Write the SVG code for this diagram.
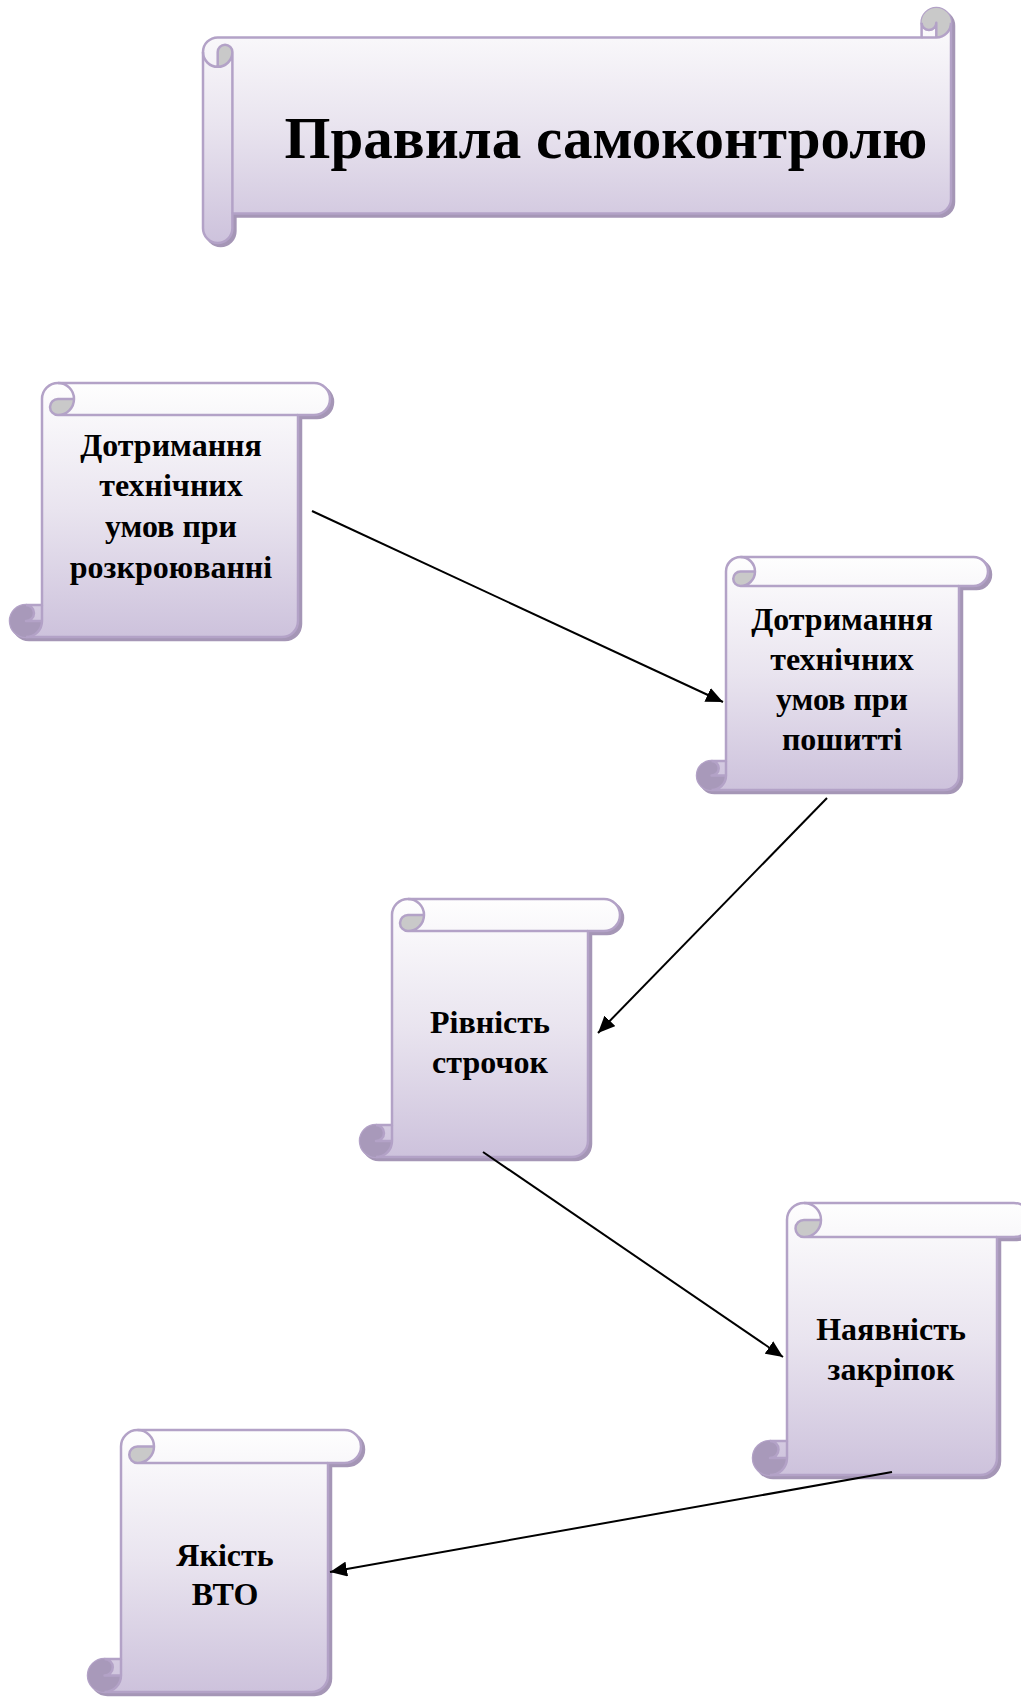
<svg xmlns="http://www.w3.org/2000/svg" width="1021" height="1697" viewBox="0 0 1021 1697">
<style>
.sh{fill:#a596b6;stroke:#a596b6;stroke-width:2.5}
.fv{fill:url(#gv);stroke:#b3a2c7;stroke-width:2.5;stroke-linejoin:round}
.fh{fill:url(#gh);stroke:#b3a2c7;stroke-width:2.5;stroke-linejoin:round}
.dg{fill:#c9c9c9}
.dp{fill:#a899ba}
.ln{fill:none;stroke:#b3a2c7;stroke-width:2.5;stroke-linejoin:round}
.t{font-family:"Liberation Serif","Times New Roman",serif;font-weight:bold;fill:#000;text-anchor:middle}
.n{font-size:32px}
.c{fill:none;stroke:#000;stroke-width:2;marker-end:url(#ah)}
</style>
<defs>
<linearGradient id="gv" x1="0" y1="0" x2="0" y2="1">
<stop offset="0" stop-color="#fefefe"/><stop offset="0.5" stop-color="#e9e4ef"/><stop offset="1" stop-color="#cdc2dc"/>
</linearGradient>
<linearGradient id="gh" x1="0" y1="0" x2="1" y2="0">
<stop offset="0" stop-color="#fefefe"/><stop offset="0.5" stop-color="#e9e4ef"/><stop offset="1" stop-color="#cdc2dc"/>
</linearGradient>
<marker id="ah" markerUnits="userSpaceOnUse" markerWidth="18" markerHeight="15" refX="17" refY="7.5" orient="auto">
<path d="M0,0 L17,7.5 L0,15 Z" fill="#000"/>
</marker>
</defs>

<g id="title">
<g transform="matrix(0,1,1,0,203,8)">
<path class="sh" transform="translate(3,3)" d="M29.4,718.6 L29.4,14.7 A14.7,14.7 0 0 1 44.1,0 L220.3,0 A14.7,14.7 0 0 1 220.3,29.4 L205.6,29.4 L205.6,733.3 A14.7,14.7 0 0 1 190.9,748 L14.7,748 A14.7,14.7 0 0 1 14.7,718.6 Z"/>
<path class="fh" d="M29.4,718.6 L29.4,14.7 A14.7,14.7 0 0 1 44.1,0 L220.3,0 A14.7,14.7 0 0 1 220.3,29.4 L205.6,29.4 L205.6,733.3 A14.7,14.7 0 0 1 190.9,748 L14.7,748 A14.7,14.7 0 0 1 14.7,718.6 Z"/>
<path class="dg" d="M58.8,14.7 A14.7,14.7 0 0 1 44.1,29.4 A7.35,7.35 0 0 1 44.1,14.7 Z"/>
<path class="dg" d="M29.4,733.3 A14.7,14.7 0 1 1 14.7,718.6 A7.35,7.35 0 0 1 14.7,733.3 Z"/>
<path class="ln" d="M44.1,0 A14.7,14.7 0 0 1 44.1,29.4 A7.35,7.35 0 0 1 44.1,14.7 L58.8,14.7 M205.6,29.4 L44.1,29.4 M14.7,718.6 A7.35,7.35 0 0 1 14.7,733.3 L29.4,733.3 M14.7,748 A14.7,14.7 0 0 0 29.4,733.3 L29.4,718.6"/>
</g>
<text class="t" x="606" y="158" font-size="59">Правила самоконтролю</text>
</g>

<g id="node1">
<g transform="translate(10,383)">
<path class="sh" transform="translate(3,3)" d="M32,222 L32,16 A16,16 0 0 1 48,0 L304,0 A16,16 0 0 1 304,32 L288,32 L288,238 A16,16 0 0 1 272,254 L16,254 A16,16 0 0 1 16,222 Z"/>
<path class="fv" d="M32,222 L32,16 A16,16 0 0 1 48,0 L304,0 A16,16 0 0 1 304,32 L288,32 L288,238 A16,16 0 0 1 272,254 L16,254 A16,16 0 0 1 16,222 Z"/>
<path class="dg" d="M64,16 A16,16 0 0 1 48,32 A8,8 0 0 1 48,16 Z"/>
<path class="dp" d="M32,238 A16,16 0 1 1 16,222 A8,8 0 0 1 16,238 Z"/>
<path class="ln" d="M48,0 A16,16 0 0 1 48,32 A8,8 0 0 1 48,16 L64,16 M288,32 L48,32 M16,222 A8,8 0 0 1 16,238 L32,238 M16,254 A16,16 0 0 0 32,238 L32,222"/>
</g>
<text class="t n"><tspan x="171" y="456">Дотримання</tspan><tspan x="171" y="496">технічних</tspan><tspan x="171" y="537">умов при</tspan><tspan x="171" y="578">розкроюванні</tspan></text>
</g>

<g id="node2">
<g transform="translate(697,557)">
<path class="sh" transform="translate(3,3)" d="M29,204 L29,14.5 A14.5,14.5 0 0 1 43.5,0 L276.5,0 A14.5,14.5 0 0 1 276.5,29 L262,29 L262,218.5 A14.5,14.5 0 0 1 247.5,233 L14.5,233 A14.5,14.5 0 0 1 14.5,204 Z"/>
<path class="fv" d="M29,204 L29,14.5 A14.5,14.5 0 0 1 43.5,0 L276.5,0 A14.5,14.5 0 0 1 276.5,29 L262,29 L262,218.5 A14.5,14.5 0 0 1 247.5,233 L14.5,233 A14.5,14.5 0 0 1 14.5,204 Z"/>
<path class="dg" d="M58,14.5 A14.5,14.5 0 0 1 43.5,29 A7.25,7.25 0 0 1 43.5,14.5 Z"/>
<path class="dp" d="M29,218.5 A14.5,14.5 0 1 1 14.5,204 A7.25,7.25 0 0 1 14.5,218.5 Z"/>
<path class="ln" d="M43.5,0 A14.5,14.5 0 0 1 43.5,29 A7.25,7.25 0 0 1 43.5,14.5 L58,14.5 M262,29 L43.5,29 M14.5,204 A7.25,7.25 0 0 1 14.5,218.5 L29,218.5 M14.5,233 A14.5,14.5 0 0 0 29,218.5 L29,204"/>
</g>
<text class="t n"><tspan x="842" y="630">Дотримання</tspan><tspan x="842" y="670">технічних</tspan><tspan x="842" y="710">умов при</tspan><tspan x="842" y="750">пошитті</tspan></text>
</g>

<g id="node3">
<g transform="translate(360,899)">
<path class="sh" transform="translate(3,3)" d="M32,226 L32,16 A16,16 0 0 1 48,0 L244,0 A16,16 0 0 1 244,32 L228,32 L228,242 A16,16 0 0 1 212,258 L16,258 A16,16 0 0 1 16,226 Z"/>
<path class="fv" d="M32,226 L32,16 A16,16 0 0 1 48,0 L244,0 A16,16 0 0 1 244,32 L228,32 L228,242 A16,16 0 0 1 212,258 L16,258 A16,16 0 0 1 16,226 Z"/>
<path class="dg" d="M64,16 A16,16 0 0 1 48,32 A8,8 0 0 1 48,16 Z"/>
<path class="dp" d="M32,242 A16,16 0 1 1 16,226 A8,8 0 0 1 16,242 Z"/>
<path class="ln" d="M48,0 A16,16 0 0 1 48,32 A8,8 0 0 1 48,16 L64,16 M228,32 L48,32 M16,226 A8,8 0 0 1 16,242 L32,242 M16,258 A16,16 0 0 0 32,242 L32,226"/>
</g>
<text class="t n"><tspan x="490" y="1033">Рівність</tspan><tspan x="490" y="1073">строчок</tspan></text>
</g>

<g id="node4">
<g transform="translate(753,1203)">
<path class="sh" transform="translate(3,3)" d="M34,238 L34,17 A17,17 0 0 1 51,0 L261,0 A17,17 0 0 1 261,34 L244,34 L244,255 A17,17 0 0 1 227,272 L17,272 A17,17 0 0 1 17,238 Z"/>
<path class="fv" d="M34,238 L34,17 A17,17 0 0 1 51,0 L261,0 A17,17 0 0 1 261,34 L244,34 L244,255 A17,17 0 0 1 227,272 L17,272 A17,17 0 0 1 17,238 Z"/>
<path class="dg" d="M68,17 A17,17 0 0 1 51,34 A8.5,8.5 0 0 1 51,17 Z"/>
<path class="dp" d="M34,255 A17,17 0 1 1 17,238 A8.5,8.5 0 0 1 17,255 Z"/>
<path class="ln" d="M51,0 A17,17 0 0 1 51,34 A8.5,8.5 0 0 1 51,17 L68,17 M244,34 L51,34 M17,238 A8.5,8.5 0 0 1 17,255 L34,255 M17,272 A17,17 0 0 0 34,255 L34,238"/>
</g>
<text class="t n"><tspan x="891" y="1340">Наявність</tspan><tspan x="891" y="1380">закріпок</tspan></text>
</g>

<g id="node5">
<g transform="translate(88,1430)">
<path class="sh" transform="translate(3,3)" d="M33,229 L33,16.5 A16.5,16.5 0 0 1 49.5,0 L256.5,0 A16.5,16.5 0 0 1 256.5,33 L240,33 L240,245.5 A16.5,16.5 0 0 1 223.5,262 L16.5,262 A16.5,16.5 0 0 1 16.5,229 Z"/>
<path class="fv" d="M33,229 L33,16.5 A16.5,16.5 0 0 1 49.5,0 L256.5,0 A16.5,16.5 0 0 1 256.5,33 L240,33 L240,245.5 A16.5,16.5 0 0 1 223.5,262 L16.5,262 A16.5,16.5 0 0 1 16.5,229 Z"/>
<path class="dg" d="M66,16.5 A16.5,16.5 0 0 1 49.5,33 A8.25,8.25 0 0 1 49.5,16.5 Z"/>
<path class="dp" d="M33,245.5 A16.5,16.5 0 1 1 16.5,229 A8.25,8.25 0 0 1 16.5,245.5 Z"/>
<path class="ln" d="M49.5,0 A16.5,16.5 0 0 1 49.5,33 A8.25,8.25 0 0 1 49.5,16.5 L66,16.5 M240,33 L49.5,33 M16.5,229 A8.25,8.25 0 0 1 16.5,245.5 L33,245.5 M16.5,262 A16.5,16.5 0 0 0 33,245.5 L33,229"/>
</g>
<text class="t n"><tspan x="225" y="1566">Якість</tspan><tspan x="225" y="1605">ВТО</tspan></text>
</g>

<g id="connectors">
<line class="c" x1="312" y1="511" x2="723" y2="702"/>
<line class="c" x1="827" y1="798" x2="598" y2="1033"/>
<line class="c" x1="483" y1="1152" x2="783" y2="1357"/>
<line class="c" x1="892" y1="1472" x2="330" y2="1572"/>
</g>
</svg>
